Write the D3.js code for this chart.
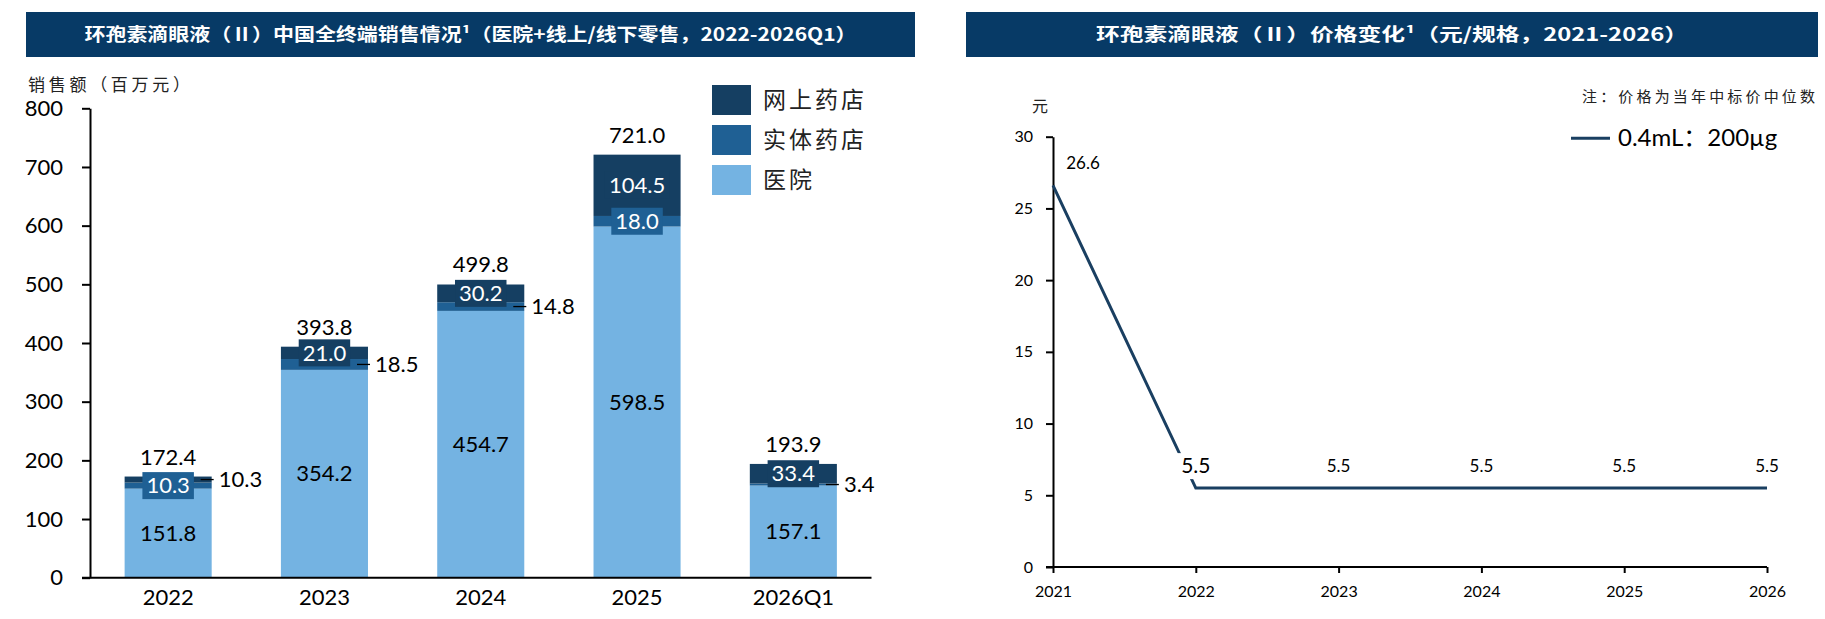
<!DOCTYPE html>
<html>
<head>
<meta charset="utf-8">
<script src="https://cdn.jsdelivr.net/npm/d3@7"></script>
<style>
  body { margin: 0; background: #fff; }
  svg { display: block; }
  text { font-family: Lato, "Noto Sans CJK SC", sans-serif; }
  .cjk { font-family: "Noto Sans CJK SC", sans-serif; }
</style>
</head>
<body>
<svg id="chart" width="1825" height="619"></svg>
<script>
// left chart: sales by channel
const years = ["2022", "2023", "2024", "2025", "2026Q1"]
const hospital = [151.8, 354.2, 454.7, 598.5, 157.1]
const physical = [10.3, 18.5, 14.8, 18.0, 3.4]
const online = [10.3, 21.0, 30.2, 104.5, 33.4]
const totals = [172.4, 393.8, 499.8, 721.0, 193.9]
// which small segment gets the label outside the bar, with a leader
const outsideLabel = ["online", "physical", "physical", null, "physical"]
const salesTicks = [0, 100, 200, 300, 400, 500, 600, 700, 800]
const legendNames = ["网上药店", "实体药店", "医院"]

// right chart: price per unit
const priceYears = ["2021", "2022", "2023", "2024", "2025", "2026"]
const price = [26.6, 5.5, 5.5, 5.5, 5.5, 5.5]
const priceTicks = [0, 5, 10, 15, 20, 25, 30]
const priceSeries = "0.4mL：200µg"

const dark = "#153f62", mid = "#1f6094", light = "#74b3e2", navy = "#073a66"
const colors = {online: dark, physical: mid, hospital: light}
const fmt = d3.format(".1f")

const svg = d3.select("#chart")

function banner(x, w, title, tw){
    svg.append("rect").attr("x", x).attr("y", 12).attr("width", w).attr("height", 45).attr("fill", navy)
    svg.append("text").attr("class", "cjk")
        .attr("x", x + w/2).attr("y", 35).attr("dy", "0.35em")
        .attr("text-anchor", "middle")
        .attr("fill", "#fff").attr("font-size", 18).attr("font-weight", 700)
        .attr("textLength", tw).attr("lengthAdjust", "spacingAndGlyphs")
        .text(title)
}

banner(26, 889, "环孢素滴眼液（Ⅱ）中国全终端销售情况¹（医院+线上/线下零售，2022-2026Q1）", 772)
banner(966, 852, "环孢素滴眼液（Ⅱ）价格变化¹（元/规格，2021-2026）", 592)

// ---------- left: stacked bars ----------
const rows = years.map((y, i) => ({year: y, hospital: hospital[i], physical: physical[i], online: online[i]}))
const stack = d3.stack().keys(["hospital", "physical", "online"])(rows)

const x = d3.scaleBand().domain(years).range([90, 871.5]).paddingInner(0.443).paddingOuter(0.2215)
const y = d3.scaleLinear().domain([0, 800]).range([577.7, 108.3])

const left = svg.append("g")

left.selectAll("g.layer")
    .data(stack)
    .enter()
    .append("g")
    .attr("class", "layer")
    .attr("fill", d => colors[d.key])
    .selectAll("rect")
    .data(d => d)
    .enter()
    .append("rect")
    .attr("x", d => x(d.data.year))
    .attr("width", x.bandwidth())
    .attr("y", d => y(d[1]))
    .attr("height", d => y(d[0]) - y(d[1]))

// y axis
const yAxis = left.append("g")
    .attr("transform", "translate(90,0)")
    .call(d3.axisLeft(y).tickValues(salesTicks).tickSize(8).tickSizeOuter(0).tickPadding(19))
yAxis.select(".domain").attr("stroke", "#000").attr("stroke-width", 2)
yAxis.selectAll(".tick line").attr("stroke", "#000").attr("stroke-width", 2)
yAxis.selectAll("text").attr("font-size", 22).attr("fill", "#000").style("font-family", "Lato")

// x axis
const xAxis = left.append("g")
    .attr("transform", "translate(0,577.7)")
    .call(d3.axisBottom(x).tickSize(0).tickPadding(12))
xAxis.select(".domain").attr("d", "M82,0H871.5").attr("stroke", "#000").attr("stroke-width", 2)
xAxis.selectAll("text").attr("font-size", 22).attr("fill", "#000").style("font-family", "Lato")

left.append("text").attr("class", "cjk")
    .attr("x", 28).attr("y", 85).attr("dy", "0.35em")
    .attr("font-size", 17).attr("fill", "#222")
    .attr("textLength", 162).attr("lengthAdjust", "spacing")
    .text("销售额（百万元）")

// hospital labels
left.selectAll("text.hosp")
    .data(stack[0])
    .enter()
    .append("text")
    .attr("class", "hosp")
    .attr("x", d => x(d.data.year) + x.bandwidth()/2)
    .attr("y", d => y((d[0] + d[1]) / 2))
    .attr("dy", "0.35em")
    .attr("text-anchor", "middle")
    .attr("font-size", 22)
    .text(d => fmt(d.data.hospital))

// small segment labels
stack.slice(1).forEach(layer => {
    layer.forEach((d, i) => {
        const cx = x(d.data.year) + x.bandwidth()/2
        const cy = y((d[0] + d[1]) / 2)
        const right = x(d.data.year) + x.bandwidth()
        if (outsideLabel[i] === layer.key){
            left.append("line")
                .attr("x1", right - 11).attr("x2", right + 2)
                .attr("y1", cy).attr("y2", cy)
                .attr("stroke", "#000").attr("stroke-width", 1.3)
            left.append("text")
                .attr("x", right + 7).attr("y", cy).attr("dy", "0.35em")
                .attr("font-size", 22)
                .text(fmt(d.data[layer.key]))
        } else {
            const g = left.append("g")
            const box = g.append("rect").attr("fill", colors[layer.key])
            const t = g.append("text")
                .attr("x", cx).attr("y", cy).attr("dy", "0.35em")
                .attr("text-anchor", "middle")
                .attr("font-size", 22).attr("fill", "#fff")
                .text(fmt(d.data[layer.key]))
            const w = t.node().getComputedTextLength() + 8
            box.attr("x", cx - w/2).attr("y", cy - 13.5).attr("width", w).attr("height", 27)
        }
    })
})

// totals
left.selectAll("text.total")
    .data(years)
    .enter()
    .append("text")
    .attr("class", "total")
    .attr("x", d => x(d) + x.bandwidth()/2)
    .attr("y", (d, i) => y(totals[i]) - 12)
    .attr("text-anchor", "middle")
    .attr("font-size", 22)
    .text((d, i) => fmt(totals[i]))

// legend
const lg = left.selectAll("g.leg")
    .data(legendNames)
    .enter()
    .append("g")
    .attr("class", "leg")
    .attr("transform", (d, i) => "translate(712," + (85 + i*40) + ")")
lg.append("rect").attr("width", 39).attr("height", 30).attr("fill", (d, i) => [dark, mid, light][i])
lg.append("text").attr("class", "cjk")
    .attr("x", 51).attr("y", 15).attr("dy", "0.35em")
    .attr("font-size", 23).attr("letter-spacing", 3).attr("fill", "#222")
    .text(d => d)

// ---------- right: price line ----------
const px = d3.scalePoint().domain(priceYears).range([1053, 1767])
const py = d3.scaleLinear().domain([0, 30]).range([567, 136.7])

const rightG = svg.append("g")

const pyAxis = rightG.append("g")
    .attr("transform", "translate(1053,0)")
    .call(d3.axisLeft(py).tickValues(priceTicks).tickSize(7).tickSizeOuter(0).tickPadding(13))
pyAxis.select(".domain").attr("stroke", "#000").attr("stroke-width", 2)
pyAxis.selectAll(".tick line").attr("stroke", "#000").attr("stroke-width", 2)
pyAxis.selectAll("text").attr("font-size", 16).attr("fill", "#000").style("font-family", "Lato")

const pxAxis = rightG.append("g")
    .attr("transform", "translate(0,567)")
    .call(d3.axisBottom(px).tickSize(6).tickSizeOuter(0).tickPadding(13))
pxAxis.select(".domain").attr("d", "M1046,0H1767").attr("stroke", "#000").attr("stroke-width", 2)
pxAxis.selectAll(".tick line").attr("stroke", "#000").attr("stroke-width", 2)
pxAxis.selectAll("text").attr("font-size", 16).attr("fill", "#000").style("font-family", "Lato")

rightG.append("text").attr("class", "cjk")
    .attr("x", 1040).attr("y", 106).attr("dy", "0.35em")
    .attr("text-anchor", "middle").attr("font-size", 16).attr("fill", "#222")
    .text("元")

const line = d3.line().x((d, i) => px(priceYears[i])).y(d => py(d))
rightG.append("path")
    .datum(price)
    .attr("d", line)
    .attr("fill", "none")
    .attr("stroke", "#1a3f61")
    .attr("stroke-width", 3)

price.forEach((v, i) => {
    const cx = px(priceYears[i]) + (i === 0 ? 30 : 0)
    const cy = py(v) - 22
    const big = i === 1
    if (big){
        rightG.append("rect")
            .attr("x", cx - 19).attr("y", cy - 13).attr("width", 38).attr("height", 26)
            .attr("fill", "#fff")
    }
    rightG.append("text")
        .attr("x", cx).attr("y", cy).attr("dy", "0.35em")
        .attr("text-anchor", "middle")
        .attr("font-size", big ? 21 : 17)
        .text(fmt(v))
})

rightG.append("text").attr("class", "cjk")
    .attr("x", 1582).attr("y", 97).attr("dy", "0.35em")
    .attr("font-size", 15).attr("fill", "#222")
    .attr("textLength", 233).attr("lengthAdjust", "spacing")
    .text("注：价格为当年中标价中位数")

rightG.append("line")
    .attr("x1", 1571).attr("x2", 1610).attr("y1", 138.3).attr("y2", 138.3)
    .attr("stroke", "#1a3f61").attr("stroke-width", 3)
rightG.append("text")
    .attr("x", 1618).attr("y", 138).attr("dy", "0.35em")
    .attr("font-size", 24)
    .text(priceSeries)
</script>
</body>
</html>
